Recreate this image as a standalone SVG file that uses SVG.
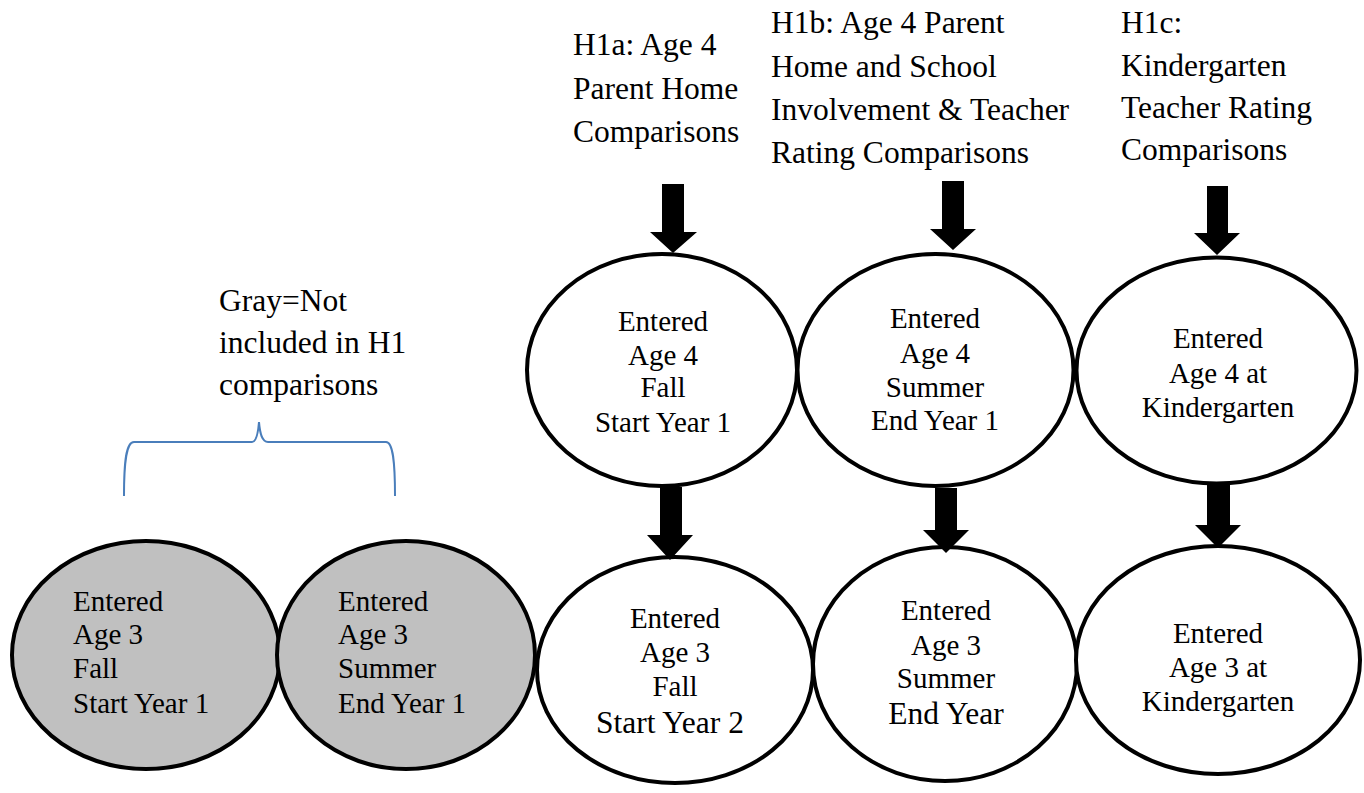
<svg xmlns="http://www.w3.org/2000/svg" width="1364" height="793" viewBox="0 0 1364 793">
<style>
text{font-family:"Liberation Serif","Times New Roman",serif;fill:#000}
.h{font-size:31.5px}
.e{font-size:29px}
.big{font-size:31.5px}
.c{text-anchor:middle}
.node ellipse{stroke:#000;stroke-width:4;fill:#fff}
.gray ellipse{fill:#C0C0C0}
.arr{fill:#000}
</style>
<rect width="1364" height="793" fill="#fff"/>
<g id="labels">
<text class="h" x="573" y="55">H1a: Age 4</text>
<text class="h" x="573" y="99">Parent Home</text>
<text class="h" x="573" y="142">Comparisons</text>
<text class="h" x="771" y="33">H1b: Age 4 Parent</text>
<text class="h" x="771" y="77">Home and School</text>
<text class="h" x="771" y="120">Involvement &amp; Teacher</text>
<text class="h" x="771" y="163">Rating Comparisons</text>
<text class="h" x="1121" y="33">H1c:</text>
<text class="h" x="1121" y="76">Kindergarten</text>
<text class="h" x="1121" y="118">Teacher Rating</text>
<text class="h" x="1121" y="160">Comparisons</text>
<text class="h" x="219" y="311">Gray=Not</text>
<text class="h" x="219" y="353">included in H1</text>
<text class="h" x="219" y="395">comparisons</text>
</g>
<g id="brace">
<path d="M124,496 C124,462 126,442 134,442 L252,442 C256,442 258,434 259,422 C260,434 262,442 268,442 L386,442 C393,442 395,462 395,496" fill="none" stroke="#4A7EBB" stroke-width="2"/>
</g>
<g id="gray1" class="node gray">
<ellipse cx="146" cy="655" rx="134" ry="114"/>
<text class="e" x="73" y="611">Entered</text>
<text class="e" x="73" y="644">Age 3</text>
<text class="e" x="73" y="678">Fall</text>
<text class="e" x="73" y="713">Start Year 1</text>
</g>
<g id="gray2" class="node gray">
<ellipse cx="406" cy="655" rx="129" ry="114"/>
<text class="e" x="338" y="611">Entered</text>
<text class="e" x="338" y="644">Age 3</text>
<text class="e" x="338" y="678">Summer</text>
<text class="e" x="338" y="713">End Year 1</text>
</g>
<g id="top1" class="node">
<ellipse cx="662" cy="370" rx="135" ry="116"/>
<text class="e c" x="663" y="331">Entered</text>
<text class="e c" x="663" y="365">Age 4</text>
<text class="e c" x="663" y="397">Fall</text>
<text class="e c" x="663" y="432">Start Year 1</text>
</g>
<g id="top2" class="node">
<ellipse cx="935.5" cy="370" rx="138" ry="116"/>
<text class="e c" x="935" y="328">Entered</text>
<text class="e c" x="935" y="363">Age 4</text>
<text class="e c" x="935" y="397">Summer</text>
<text class="e c" x="935" y="430">End Year 1</text>
</g>
<g id="top3" class="node">
<ellipse cx="1216.5" cy="370.5" rx="140" ry="113"/>
<text class="e c" x="1218" y="348">Entered</text>
<text class="e c" x="1218" y="383">Age 4 at</text>
<text class="e c" x="1218" y="417">Kindergarten</text>
</g>
<g id="bottom1" class="node">
<ellipse cx="675" cy="670" rx="138" ry="113"/>
<text class="e c" x="675" y="628">Entered</text>
<text class="e c" x="675" y="662">Age 3</text>
<text class="e c" x="675" y="696">Fall</text>
<text class="big c" x="670" y="733">Start Year 2</text>
</g>
<g id="bottom2" class="node">
<ellipse cx="945" cy="664" rx="132" ry="117"/>
<text class="e c" x="946" y="620">Entered</text>
<text class="e c" x="946" y="655">Age 3</text>
<text class="e c" x="946" y="688">Summer</text>
<text class="big c" x="946" y="724">End Year</text>
</g>
<g id="bottom3" class="node">
<ellipse cx="1218" cy="660" rx="142" ry="114"/>
<text class="e c" x="1218" y="643">Entered</text>
<text class="e c" x="1218" y="677">Age 3 at</text>
<text class="e c" x="1218" y="711">Kindergarten</text>
</g>
<g id="connectors" class="arr">
<path d="M662,184 H684 V232 H697 L673,253 L650,232 H662 Z"/>
<path d="M660,487 H682 V535 H693 L670,560 L647,535 H660 Z"/>
<path d="M942,181 H964 V229 H976 L953,250 L930,229 H942 Z"/>
<path d="M935,488 H957 V530 H969 L946,553 L923,530 H935 Z"/>
<path d="M1207,186 H1228 V233 H1240 L1217,255 L1194,233 H1207 Z"/>
<path d="M1207,485 H1230 V525 H1241 L1218,548 L1195,525 H1207 Z"/>
</g>
</svg>
